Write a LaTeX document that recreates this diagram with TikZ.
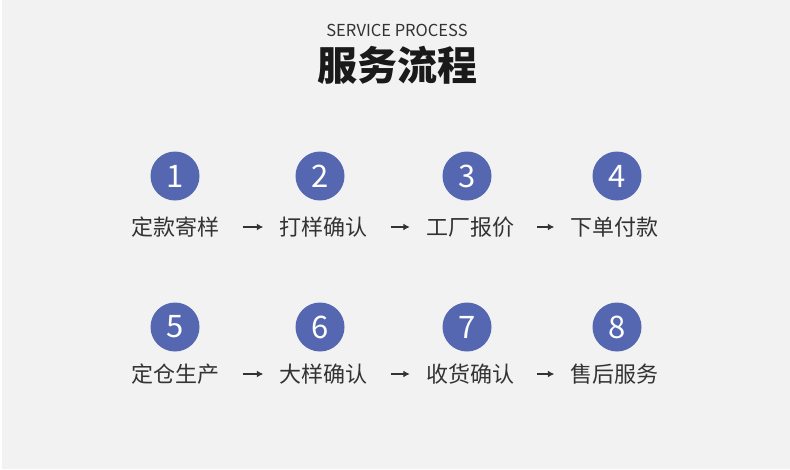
\documentclass[tikz,border=0pt]{standalone}
\usepackage{fontspec}
\newfontfamily\cjk{Noto Sans CJK SC}
\setmainfont{Noto Sans}
\usetikzlibrary{arrows.meta}
\definecolor{bg}{HTML}{F2F2F2}
\definecolor{cblue}{HTML}{5467B0}
\definecolor{txt}{HTML}{333333}
\definecolor{ttl}{HTML}{1A1A1A}
\tikzset{
  num/.style={circle, fill=cblue, minimum size=49pt, inner sep=0pt, text=white, font=\cjk\fontsize{31}{31}\selectfont},
  lbl/.style={inner sep=0pt, text=txt, font=\cjk\fontsize{22}{22}\selectfont},
  arr/.style={draw=txt, line width=1.6pt, -{Latex[length=6.5pt,width=7pt]}, shorten <=23pt, shorten >=16pt},
}
\begin{document}
\begin{tikzpicture}[x=1pt,y=-1pt]
\fill[bg] (0,0) rectangle (790,469);
\fill[white] (0,0) rectangle (1.5,469);
\useasboundingbox (0,0) rectangle (790,469);
\node[inner sep=0pt, text=txt, font=\cjk\fontsize{16.5}{16.5}\selectfont] (sub) at (397,30) {SERVICE PROCESS};
\node[inner sep=0pt, text=ttl, font=\cjk\bfseries\fontsize{40}{40}\selectfont] (title) at (397,65) {服务流程};
% row 1
\node[num] (c1) at (175,176) {1};
\node[num] (c2) at (320,176) {2};
\node[num] (c3) at (467,176) {3};
\node[num] (c4) at (617,176) {4};
\node[lbl] (t1) at (175.5,227) {定款寄样};
\node[lbl] (t2) at (323.5,227) {打样确认};
\node[lbl] (t3) at (470,227) {工厂报价};
\node[lbl] (t4) at (614.5,227) {下单付款};
\draw[arr] (t1.east) -- (t2.west);
\draw[arr] (t2.east) -- (t3.west);
\draw[arr] (t3.east) -- (t4.west);
% row 2
\node[num] (c5) at (175,327) {5};
\node[num] (c6) at (320,327) {6};
\node[num] (c7) at (467,327) {7};
\node[num] (c8) at (617,327) {8};
\node[lbl] (t5) at (175.5,374) {定仓生产};
\node[lbl] (t6) at (323.5,374) {大样确认};
\node[lbl] (t7) at (470,374) {收货确认};
\node[lbl] (t8) at (614.5,374) {售后服务};
\draw[arr] (t5.east) -- (t6.west);
\draw[arr] (t6.east) -- (t7.west);
\draw[arr] (t7.east) -- (t8.west);
\end{tikzpicture}
\end{document}
